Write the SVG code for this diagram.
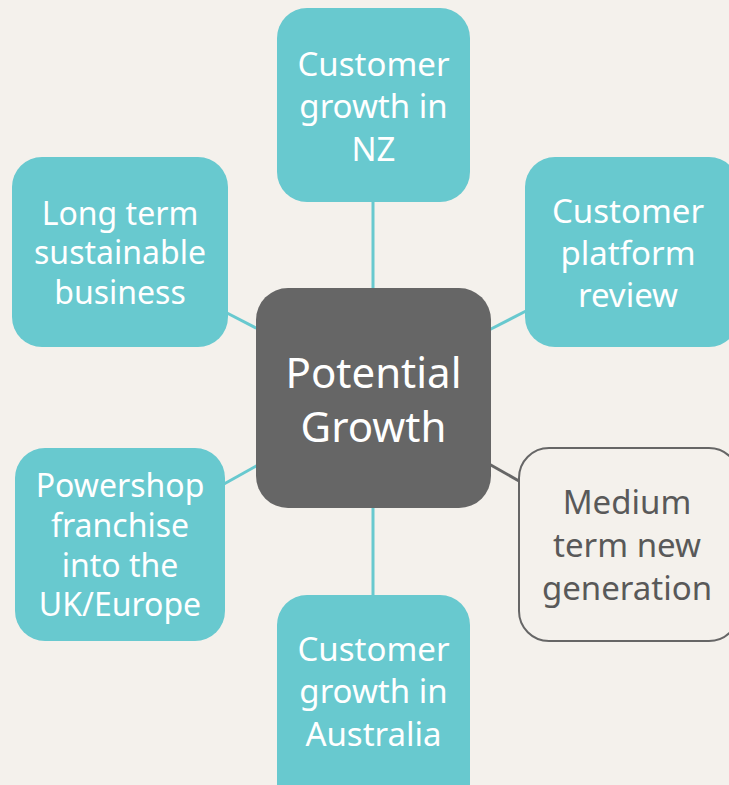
<svg xmlns="http://www.w3.org/2000/svg" width="729" height="785" viewBox="0 0 729 785">
<style>
.bg{fill:#F4F1EC}
.teal{fill:#68C9CF}
.t{font-family:"Noto Sans","Open Sans",sans-serif;font-size:33px;fill:#FFFFFF;text-anchor:middle}
.s{font-size:32px}
.g{fill:#595959}
.c{stroke:#68C9CF;stroke-width:3;fill:none}
</style>
<rect class="bg" x="0" y="0" width="729" height="785"/>
<g id="connectors">
<line class="c" x1="373" y1="202" x2="373" y2="290"/>
<line class="c" x1="373" y1="506" x2="373" y2="596"/>
<line class="c" x1="489" y1="330" x2="526" y2="311"/>
<line class="c" x1="227" y1="313" x2="258" y2="329"/>
<line class="c" x1="224" y1="484" x2="258" y2="465"/>
<line x1="489" y1="464" x2="519" y2="481" stroke="#666666" stroke-width="3"/>
</g>
<g id="n-nz">
<rect class="teal" x="277" y="8" width="193" height="194" rx="30"/>
<text class="t"><tspan x="373.5" y="76">Customer</tspan><tspan x="373.5" y="118">growth in</tspan><tspan x="373.5" y="161">NZ</tspan></text>
</g>
<g id="n-platform">
<rect class="teal" x="525" y="157" width="214" height="190" rx="30"/>
<text class="t"><tspan x="628" y="223">Customer</tspan><tspan x="628" y="265">platform</tspan><tspan x="628" y="307">review</tspan></text>
</g>
<g id="n-longterm">
<rect class="teal" x="12" y="157" width="216" height="190" rx="30"/>
<text class="t s"><tspan x="120" y="225">Long term</tspan><tspan x="120" y="264">sustainable</tspan><tspan x="120" y="304">business</tspan></text>
</g>
<g id="n-powershop">
<rect class="teal" x="15" y="448" width="210" height="193" rx="30"/>
<text class="t s"><tspan x="120" y="497">Powershop</tspan><tspan x="120" y="537">franchise</tspan><tspan x="120" y="577">into the</tspan><tspan x="120" y="616">UK/Europe</tspan></text>
</g>
<g id="n-medium">
<rect x="519" y="448" width="220" height="193" rx="30" fill="#F4F1EC" stroke="#666666" stroke-width="2"/>
<text class="t g"><tspan x="627" y="514">Medium</tspan><tspan x="627" y="557">term new</tspan><tspan x="627" y="600">generation</tspan></text>
</g>
<g id="n-australia">
<rect class="teal" x="277" y="595" width="193" height="220" rx="30"/>
<text class="t"><tspan x="373.5" y="661">Customer</tspan><tspan x="373.5" y="703">growth in</tspan><tspan x="373.5" y="746">Australia</tspan></text>
</g>
<g id="n-center">
<rect x="256" y="288" width="235" height="220" rx="32" fill="#666666"/>
<text class="t" style="font-size:42px"><tspan x="373.5" y="388">Potential</tspan><tspan x="373.5" y="442">Growth</tspan></text>
</g>
</svg>
